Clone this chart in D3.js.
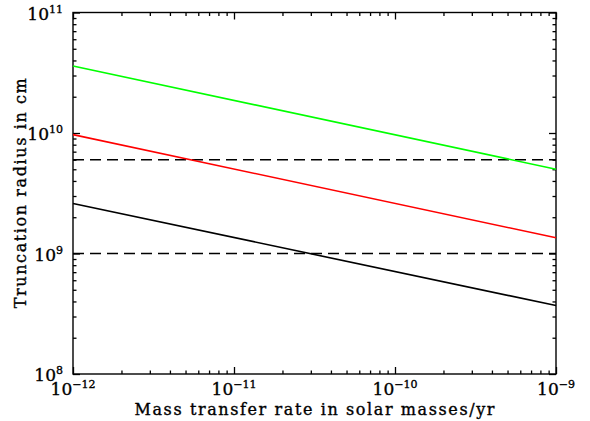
<!DOCTYPE html>
<html>
<head>
<meta charset="UTF-8">
<script src="https://d3js.org/d3.v7.min.js"></script>
<style>
  body { margin: 0; background: #fff; }
  text { font-family: "DejaVu Serif", serif; fill: #000; stroke: #000; stroke-width: 0.35; }
</style>
</head>
<body>
<svg id="chart" width="590" height="421"></svg>
<script>
// data
const xDomain = [1e-12, 1e-9];
const yDomain = [1e8, 1e11];
const rateX = [1e-12, 1e-9];
const greenR = [3.6e10, 5.0e9];
const redR = [9.7e9, 1.35e9];
const blackR = [2.6e9, 3.7e8];
const dashLevels = [6.0e9, 1.0e9];
const xTickExp = [-12, -11, -10, -9];
const yTickExp = [8, 9, 10, 11];

const pLeft = 73, pRight = 556, pTop = 12.5, pBottom = 374;
const svg = d3.select('#chart');

const x = d3.scaleLog().domain(xDomain).range([pLeft, pRight]);
const y = d3.scaleLog().domain(yDomain).range([pBottom, pTop]);

// major / minor tick values
function logTicks(exps) {
  let major = [], minor = [];
  exps.forEach((e, i) => {
    major.push(Math.pow(10, e));
    if (i < exps.length - 1)
      for (let k = 2; k <= 9; k++) minor.push(k * Math.pow(10, e));
  });
  return {major, minor};
}
const xt = logTicks(xTickExp), yt = logTicks(yTickExp);

function addAxis(axisFn, scale, vals, size, tr) {
  const g = svg.append('g').attr('transform', tr)
    .call(axisFn(scale).tickValues(vals).tickSize(size).tickFormat('').tickSizeOuter(0));
  g.select('.domain').remove();
  g.selectAll('line').attr('stroke', '#000').attr('stroke-width', 1.3);
}
// inward ticks on all four sides
addAxis(d3.axisBottom, x, xt.major, -7, `translate(0,${pBottom})`);
addAxis(d3.axisBottom, x, xt.minor, -3.5, `translate(0,${pBottom})`);
addAxis(d3.axisTop, x, xt.major, -7, `translate(0,${pTop})`);
addAxis(d3.axisTop, x, xt.minor, -3.5, `translate(0,${pTop})`);
addAxis(d3.axisLeft, y, yt.major, -7, `translate(${pLeft},0)`);
addAxis(d3.axisLeft, y, yt.minor, -3.5, `translate(${pLeft},0)`);
addAxis(d3.axisRight, y, yt.major, -7, `translate(${pRight},0)`);
addAxis(d3.axisRight, y, yt.minor, -3.5, `translate(${pRight},0)`);

svg.append('rect')
  .attr('x', pLeft).attr('y', pTop)
  .attr('width', pRight - pLeft).attr('height', pBottom - pTop)
  .attr('fill', 'none').attr('stroke', '#000').attr('stroke-width', 1.4);

// tick labels 10^n
function powLabel(sel, e) {
  sel.append('tspan').attr('font-size', 17).text('10');
  sel.append('tspan').attr('font-size', 11).attr('dy', -7)
    .text(e < 0 ? '\u2212' + (-e) : e);
}
xTickExp.forEach(e => {
  svg.append('text')
    .attr('x', x(Math.pow(10, e))).attr('y', pBottom + 21)
    .attr('text-anchor', 'middle')
    .call(powLabel, e);
});
yTickExp.forEach(e => {
  svg.append('text')
    .attr('x', pLeft - 10).attr('y', y(Math.pow(10, e)) + 7)
    .attr('text-anchor', 'end')
    .call(powLabel, e);
});

// dashed reference levels
svg.selectAll('.lvl').data(dashLevels).enter().append('line')
  .attr('class', 'lvl')
  .attr('x1', pLeft).attr('x2', pRight)
  .attr('y1', d => y(d)).attr('y2', d => y(d))
  .attr('stroke', '#000').attr('stroke-width', 1.5)
  .attr('stroke-dasharray', '11,6');

// truncation radius curves
const series = [
  {vals: greenR, color: '#00ff00'},
  {vals: redR, color: '#ff0000'},
  {vals: blackR, color: '#000000'}
];
const line = d3.line().x(d => x(d[0])).y(d => y(d[1]));
svg.selectAll('.curve').data(series).enter().append('path')
  .attr('class', 'curve')
  .attr('d', s => line(rateX.map((r, i) => [r, s.vals[i]])))
  .attr('fill', 'none')
  .attr('stroke', s => s.color)
  .attr('stroke-width', 1.6);

// axis titles
svg.append('text')
  .attr('x', (pLeft + pRight) / 2).attr('y', 415)
  .attr('text-anchor', 'middle').attr('font-size', 16)
  .attr('textLength', 360).attr('lengthAdjust', 'spacing')
  .text('Mass transfer rate in solar masses/yr');
svg.append('text')
  .attr('transform', `translate(26,${(pTop + pBottom) / 2}) rotate(-90)`)
  .attr('text-anchor', 'middle').attr('font-size', 16)
  .attr('textLength', 230).attr('lengthAdjust', 'spacing')
  .text('Truncation radius in cm');
</script>
</body>
</html>
